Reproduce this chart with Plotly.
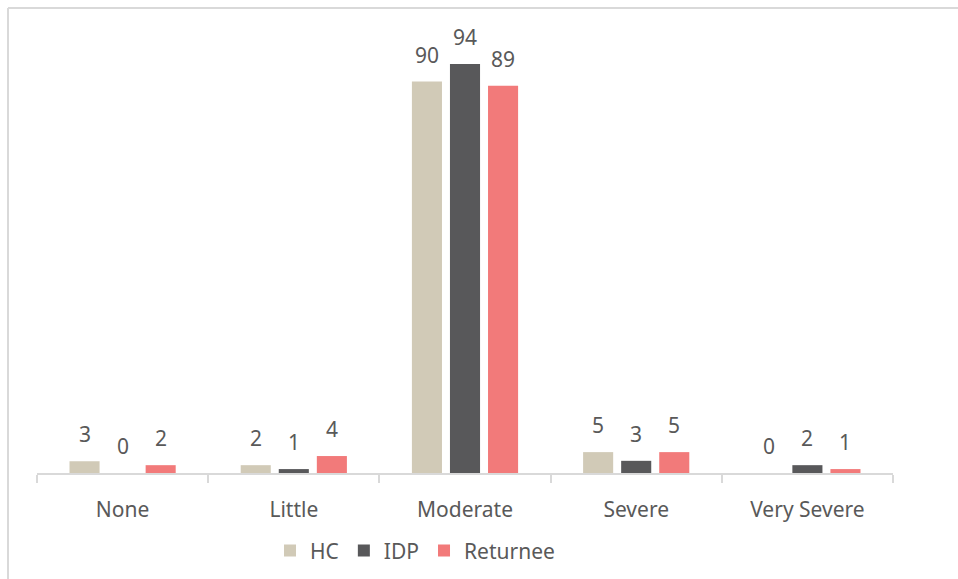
import plotly.graph_objects as go

categories = ["None", "Little", "Moderate", "Severe", "Very Severe"]
hc = [2.7, 1.8, 90.0, 4.8, 0.0]
idp = [0.0, 0.9, 94.0, 2.8, 1.8]
returnee = [1.8, 3.9, 89.0, 4.8, 0.9]

series = [("HC", hc, "#D1CAB7"), ("IDP", idp, "#58585A"), ("Returnee", returnee, "#F27A7A")]

FONT = "Noto Sans"
TXT = "#595959"

fig = go.Figure()
annotations = []
for i, (name, vals, col) in enumerate(series):
    fig.add_trace(go.Bar(
        x=categories, y=vals, name=name, marker=dict(color=col, line=dict(width=0)),
        cliponaxis=False,
    ))
    for c, v in zip(categories, vals):
        annotations.append(dict(
            x=c, y=v, xref="x", yref="y", text=f"{v:.0f}", showarrow=False,
            xshift=(i - 1) * 38, yshift=27, yanchor="middle", xanchor="center",
            font=dict(family=FONT, size=21, color=TXT),
        ))

fig.update_layout(
    width=958, height=579,
    margin=dict(l=37, r=65, t=38, b=106, autoexpand=False),
    paper_bgcolor="white", plot_bgcolor="white",
    barmode="group", bargap=0.333, bargroupgap=0.21,
    font=dict(family=FONT, color=TXT),
    showlegend=True,
    legend=dict(orientation="h", x=0.4416, xanchor="center", y=-0.179, yanchor="middle",
                font=dict(family=FONT, size=21, color=TXT), itemwidth=30,
                itemclick=False, traceorder="normal"),
    xaxis=dict(showline=True, linecolor="#D9D9D9", linewidth=1.5, automargin=False,
               ticks="outside", tickson="boundaries", ticklen=8, tickcolor="#D9D9D9", tickwidth=1.5,
               tickfont=dict(family=FONT, size=21, color=TXT), ticklabelstandoff=17,
               showgrid=False, zeroline=False),
    yaxis=dict(range=[0, 100], visible=False, showgrid=False, zeroline=False, automargin=False),
    annotations=annotations,
    shapes=[
        dict(type="line", xref="paper", yref="paper", x0=(8 - 37) / 856, x1=(958 - 37) / 856,
             y0=(473 - 8) / 435, y1=(473 - 8) / 435, line=dict(color="#D9D9D9", width=2)),
        dict(type="line", xref="paper", yref="paper", x0=(8 - 37) / 856, x1=(8 - 37) / 856,
             y0=(473 - 8) / 435, y1=(473 - 580) / 435, line=dict(color="#D9D9D9", width=2)),
    ],
)

fig.write_html("out.html")
